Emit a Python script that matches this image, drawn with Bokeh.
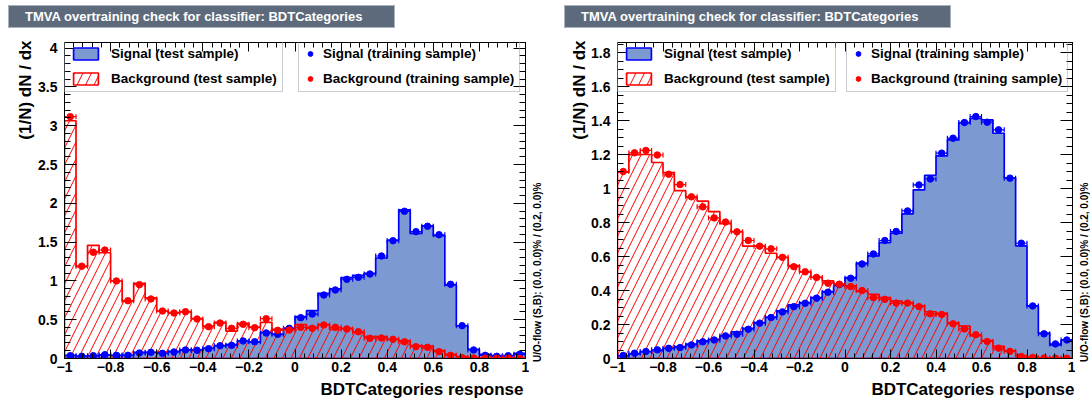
import numpy as np
from bokeh.plotting import figure
from bokeh.models import (Range1d, LinearAxis, SingleIntervalTicker, CustomJSTickFormatter,
                          Title, Legend, LegendItem, Div)
from bokeh.layouts import row, column
from bokeh.embed import file_html
from bokeh.resources import INLINE

# ---------------- data (40 bins on [-1, 1]) ----------------
n_bins = 40
x_min, x_max = -1.0, 1.0

# left panel
L_sig_test = [0.04, 0.03, 0.035, 0.045, 0.04, 0.04, 0.08, 0.08, 0.08, 0.093,
              0.11, 0.11, 0.135, 0.165, 0.178, 0.229, 0.213, 0.338, 0.312, 0.389,
              0.539, 0.616, 0.84, 0.896, 1.041, 1.072, 1.098, 1.295, 1.527, 1.914,
              1.613, 1.711, 1.582, 0.947, 0.419, 0.119, 0.054, 0.036, 0.036, 0.067]
L_sig_train = [0.036, 0.028, 0.036, 0.049, 0.041, 0.041, 0.071, 0.08, 0.067, 0.084,
               0.11, 0.106, 0.126, 0.165, 0.17, 0.226, 0.216, 0.329, 0.312, 0.389,
               0.526, 0.573, 0.818, 0.883, 1.021, 1.046, 1.089, 1.321, 1.518, 1.897,
               1.634, 1.704, 1.595, 0.956, 0.423, 0.11, 0.041, 0.028, 0.036, 0.054]
L_bkg_test = [3.064, 1.183, 1.459, 1.363, 0.999, 0.741, 0.969, 0.78, 0.612, 0.59,
              0.599, 0.513, 0.419, 0.466, 0.354, 0.454, 0.406, 0.466, 0.376, 0.389,
              0.436, 0.402, 0.436, 0.376, 0.389, 0.345, 0.281, 0.281, 0.247, 0.229,
              0.165, 0.161, 0.101, 0.054, 0.023, 0.012, 0.008, 0.006, 0.004, 0.004]
L_bkg_train = [3.116, 1.19, 1.369, 1.398, 0.999, 0.745, 0.951, 0.767, 0.612, 0.586,
               0.603, 0.509, 0.41, 0.457, 0.389, 0.441, 0.397, 0.513, 0.363, 0.367,
               0.402, 0.389, 0.432, 0.402, 0.38, 0.345, 0.26, 0.264, 0.247, 0.216,
               0.152, 0.144, 0.088, 0.041, 0.01, 0.006, 0.004, 0.003, 0.004, 0.002]

# right panel
R_sig_test = [0.015, 0.027, 0.041, 0.047, 0.06, 0.07, 0.084, 0.104, 0.113, 0.133,
              0.157, 0.178, 0.211, 0.243, 0.28, 0.315, 0.329, 0.358, 0.394, 0.43,
              0.476, 0.561, 0.604, 0.682, 0.737, 0.851, 0.992, 1.078, 1.192, 1.286,
              1.388, 1.413, 1.404, 1.325, 1.061, 0.662, 0.309, 0.149, 0.08, 0.109]
R_sig_train = [0.018, 0.031, 0.041, 0.051, 0.06, 0.064, 0.08, 0.098, 0.109, 0.133,
               0.143, 0.172, 0.208, 0.241, 0.274, 0.305, 0.325, 0.355, 0.39, 0.435,
               0.472, 0.556, 0.615, 0.694, 0.747, 0.868, 1.021, 1.056, 1.208, 1.296,
               1.388, 1.423, 1.39, 1.345, 1.061, 0.678, 0.309, 0.145, 0.086, 0.109]
R_bkg_test = [1.096, 1.199, 1.2, 1.153, 1.094, 0.987, 0.951, 0.926, 0.864, 0.793,
              0.746, 0.661, 0.661, 0.619, 0.595, 0.546, 0.51, 0.477, 0.457, 0.437,
              0.427, 0.394, 0.378, 0.358, 0.338, 0.328, 0.309, 0.275, 0.265, 0.21,
              0.19, 0.135, 0.105, 0.071, 0.045, 0.016, 0.01, 0.004, 0.003, 0.002]
R_bkg_train = [1.10, 1.21, 1.224, 1.197, 1.084, 1.023, 0.951, 0.892, 0.827, 0.803,
               0.745, 0.694, 0.661, 0.645, 0.595, 0.54, 0.51, 0.477, 0.443, 0.437,
               0.423, 0.40, 0.358, 0.348, 0.326, 0.326, 0.305, 0.263, 0.259, 0.204,
               0.174, 0.14, 0.10, 0.061, 0.042, 0.012, 0.006, 0.003, 0.002, 0.002]

title_text = "TMVA overtraining check for classifier: BDTCategories"
x_title = "BDTCategories response"
y_title = "(1/N) dN / dx"
uo_text = "U/O-flow (S,B): (0.0, 0.0)% / (0.2, 0.0)%"
leg_labels = ["Signal (test sample)", "Background (test sample)",
              "Signal (training sample)", "Background (training sample)"]

# ---------------- styling ----------------
FONT = "Liberation Sans"
SIG_FILL = "#7d99d1"
SIG_LINE = "#0000ff"
BKG_LINE = "#ff0000"
TITLE_BG = "#5d6a7b"
LEG_BORDER = "#8e9cab"

TOTAL_H = 408
DIV_H = 28
H = TOTAL_H - DIV_H           # figure canvas height (page y 28..408)
FRAME_TOP = 42                # page y of the frame top
FRAME_H = 316
B_TOP = FRAME_TOP - DIV_H
B_BOT = H - B_TOP - FRAME_H

edges = np.linspace(x_min, x_max, n_bins + 1)
centers = 0.5 * (edges[:-1] + edges[1:])

fmt_code = """
const v = Math.round(tick * 100) / 100;
return String(v).replace('-', '\u2212');
"""


def step_poly(vals):
    xs = [edges[0]]
    ys = [0.0]
    for i, v in enumerate(vals):
        xs += [edges[i], edges[i + 1]]
        ys += [v, v]
    xs.append(edges[-1])
    ys.append(0.0)
    return xs, ys


def make_axis(ticker, labels, tick_len, minor_len, standoff):
    if labels:
        fmt = CustomJSTickFormatter(code=fmt_code)
    else:
        fmt = CustomJSTickFormatter(code="return '';")
    ax = LinearAxis(ticker=ticker, formatter=fmt,
                    axis_line_color="black", axis_line_width=1,
                    major_tick_in=tick_len, major_tick_out=0,
                    minor_tick_in=minor_len, minor_tick_out=0,
                    major_tick_line_color="black", minor_tick_line_color="black",
                    major_tick_line_width=1, minor_tick_line_width=1,
                    major_label_text_font=FONT, major_label_text_font_style="bold",
                    major_label_text_font_size="14px" if labels else "1px",
                    major_label_text_color="black",
                    major_label_standoff=standoff if labels else 0)
    return ax


def title_div(width, left):
    html = ('<div style="margin-top:5px;margin-left:%dpx;box-sizing:border-box;width:387px;'
            'height:23px;background:%s;border:1px solid #a9b3be;color:#ffffff;'
            "font-family:'Liberation Sans',Arial,sans-serif;font-weight:bold;font-size:13px;"
            'line-height:21px;padding-left:16px;white-space:nowrap;overflow:hidden;">%s</div>'
            % (left, TITLE_BG, title_text))
    return Div(text=html, width=width, height=DIV_H, margin=(0, 0, 0, 0))


def uo_title():
    return Title(text=uo_text, align="left", offset=-3.5, standoff=0,
                 vertical_align="bottom", text_font=FONT, text_font_style="bold",
                 text_font_size="10px", text_color="black")


def panel(sig_test, sig_train, bkg_test, bkg_train, ymax, yint, yminor,
          width, bl, br, leg2_x, xt_off, yt_standoff, uo_spacer=None):
    p = figure(width=width, height=H, x_range=Range1d(x_min, x_max),
               y_range=Range1d(0, ymax), output_backend="svg",
               toolbar_location=None, x_axis_location=None, y_axis_location=None,
               min_border_left=bl, min_border_right=br,
               min_border_top=B_TOP, min_border_bottom=B_BOT)
    p.background_fill_color = "white"
    p.border_fill_color = "white"
    p.outline_line_color = "black"
    p.outline_line_width = 1
    p.grid.visible = False

    xt = SingleIntervalTicker(interval=0.2, num_minor_ticks=5)
    yt = SingleIntervalTicker(interval=yint, num_minor_ticks=yminor)
    p.add_layout(make_axis(xt, True, 9, 5, 3), "below")
    p.add_layout(make_axis(xt, False, 9, 5, 0), "above")
    p.add_layout(make_axis(yt, True, 12, 6, 7), "left")
    p.add_layout(make_axis(yt, False, 12, 6, 0), "right")

    sx, sy = step_poly(sig_test)
    sig_r = p.patch(sx, sy, fill_color=SIG_FILL, line_color=SIG_LINE, line_width=1.7)
    bx, by = step_poly(bkg_test)
    bkg_r = p.patch(bx, by, fill_color=None, fill_alpha=0, hatch_pattern="/",
                    hatch_color=BKG_LINE, hatch_weight=1, hatch_scale=17,
                    line_color=BKG_LINE, line_width=1.7)

    pts = []
    for vals, col in ((sig_train, SIG_LINE), (bkg_train, BKG_LINE)):
        p.segment(x0=edges[:-1], y0=vals, x1=edges[1:], y1=vals,
                  line_color=col, line_width=1.2)
        p.scatter(x=edges[:-1], y=vals, marker="dash", angle=np.pi / 2, size=5,
                  line_color=col, line_width=1.2)
        p.scatter(x=edges[1:], y=vals, marker="dash", angle=np.pi / 2, size=5,
                  line_color=col, line_width=1.2)
        r = p.scatter(x=centers, y=vals, size=6.5, fill_color=col, line_color=col)
        pts.append(r)

    leg_common = dict(glyph_height=15, label_height=15,
                      spacing=10, padding=5, margin=0,
                      label_text_font=FONT, label_text_font_style="bold",
                      label_text_font_size="13.5px", label_text_color="black",
                      border_line_color=LEG_BORDER, border_line_width=1.5,
                      background_fill_color="white", background_fill_alpha=0.0)
    leg1 = Legend(items=[LegendItem(label=leg_labels[0], renderers=[sig_r]),
                         LegendItem(label=leg_labels[1], renderers=[bkg_r])],
                  location=(0, FRAME_H - 50), glyph_width=31, label_standoff=10,
                  **leg_common)
    leg2 = Legend(items=[LegendItem(label=leg_labels[2], renderers=[pts[0]]),
                         LegendItem(label=leg_labels[3], renderers=[pts[1]])],
                  location=(leg2_x, FRAME_H - 50), glyph_width=12, label_standoff=7,
                  **leg_common)
    p.add_layout(leg1)
    p.add_layout(leg2)

    # axis titles
    p.add_layout(Title(text=x_title, align="right", offset=xt_off, standoff=6,
                       vertical_align="bottom", text_font=FONT, text_font_style="bold",
                       text_font_size="17px", text_color="black"), "below")
    p.add_layout(Title(text=y_title, align="right", offset=-2, standoff=yt_standoff,
                       vertical_align="bottom", text_font=FONT, text_font_style="bold",
                       text_font_size="17px", text_color="black"), "left")
    if uo_spacer is not None:
        # over/underflow note of the panel to the left, placed in this figure's left border
        p.add_layout(Title(text=" ", standoff=uo_spacer, text_font_size="1px",
                           text_font=FONT), "left")
        p.add_layout(uo_title(), "left")
    return p


# page layout (no body margin): left figure 0..529 (frame 64..525),
# right figure 529..1075 (frame 617..1072), thin strip 1075..1090 for the last note
pA = panel(L_sig_test, L_sig_train, L_bkg_test, L_bkg_train, FRAME_H / 77.6, 0.5, 5,
           529, 64, 4, 234, 2, 1)
pB = panel(R_sig_test, R_sig_train, R_bkg_test, R_bkg_train, FRAME_H / 170.0, 0.2, 4,
           546, 88, 3, 229, -2, 0, uo_spacer=22)

pC = figure(width=15, height=TOTAL_H, x_range=Range1d(0, 1), y_range=Range1d(0, 1),
            output_backend="svg", toolbar_location=None,
            x_axis_location=None, y_axis_location=None,
            min_border_left=14, min_border_right=0,
            min_border_top=FRAME_TOP, min_border_bottom=TOTAL_H - FRAME_TOP - FRAME_H)
pC.outline_line_color = None
pC.background_fill_color = "white"
pC.border_fill_color = "white"
pC.grid.visible = False
pC.add_layout(uo_title(), "left")

layout = row(column(title_div(529, 8), pA), column(title_div(546, 35), pB), pC)
open("out.html", "w").write(file_html(layout, INLINE))
